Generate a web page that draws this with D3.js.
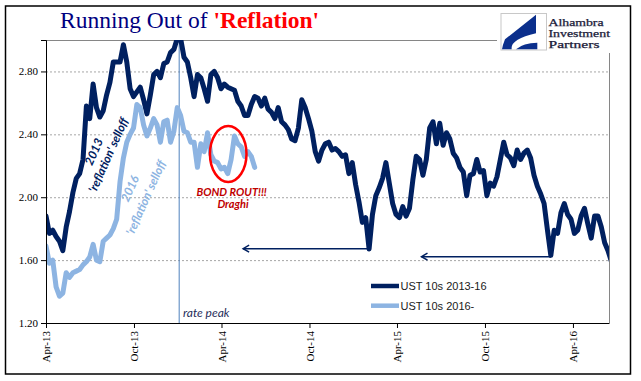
<!DOCTYPE html>
<html><head><meta charset="utf-8">
<script src="https://cdn.jsdelivr.net/npm/d3@7"></script>
<style>body{margin:0;background:#fff}svg{display:block}</style>
</head><body><svg id="c" width="641" height="381"></svg>
<script>
// ---------- data ----------
const startDate = "2013-04-01";
const endDate = "2016-06-15";
const stepDays = 7; // weekly observations
const yTicks = [1.2, 1.6, 2.0, 2.4, 2.8];
const xTickDates = ["2013-04-01","2013-10-01","2014-04-01","2014-10-01","2015-04-01","2015-10-01","2016-04-01"];
const xTickLabels = ["Apr-13","Oct-13","Apr-14","Oct-14","Apr-15","Oct-15","Apr-16"];
const seriesNames = ["UST 10s 2013-16", "UST 10s 2016-"];
const ust2013 = [
 1.88,1.77,1.79,1.75,1.72,1.66,1.81,1.91,2.03,2.12,
 2.15,2.24,2.58,2.50,2.72,2.57,2.51,2.55,2.65,2.73,
 2.86,2.86,2.86,2.97,2.86,2.69,2.64,2.67,2.70,2.62,
 2.53,2.65,2.78,2.80,2.76,2.85,2.86,2.92,2.94,3.01,
 3.01,2.89,2.86,2.76,2.64,2.78,2.76,2.69,2.61,2.78,
 2.80,2.76,2.69,2.72,2.70,2.69,2.68,2.61,2.58,2.52,
 2.52,2.59,2.64,2.63,2.58,2.63,2.56,2.54,2.50,2.57,
 2.48,2.46,2.43,2.37,2.36,2.44,2.62,2.57,2.50,2.42,
 2.29,2.23,2.30,2.34,2.35,2.30,2.31,2.29,2.26,2.27,
 2.15,2.22,2.08,1.97,1.84,1.87,1.67,1.89,2.01,2.06,
 2.12,2.22,2.09,1.96,1.89,1.87,1.94,1.88,1.93,2.11,
 2.26,2.24,2.14,2.24,2.44,2.48,2.34,2.47,2.33,2.41,
 2.37,2.28,2.25,2.19,2.16,2.01,2.14,2.15,2.24,2.16,
 2.17,2.01,2.09,2.07,2.13,2.24,2.35,2.27,2.25,2.20,
 2.30,2.24,2.28,2.30,2.25,2.14,2.07,2.02,1.96,1.79,
 1.63,1.79,1.77,1.90,1.96,1.89,1.86,1.77,1.79,1.88,
 1.93,1.83,1.74,1.88,1.88,1.81,1.71,1.66,1.59
];
const ust2016 = [
 1.69,1.58,1.60,1.43,1.37,1.39,1.52,1.49,1.52,1.53,
 1.54,1.57,1.59,1.62,1.70,1.60,1.59,1.72,1.74,1.76,
 1.80,1.86,2.10,2.25,2.35,2.40,2.44,2.59,2.57,2.46,
 2.39,2.44,2.50,2.46,2.35,2.48,2.49,2.35,2.42,2.57,
 2.52,2.42,2.41,2.35,2.35,2.19,2.34,2.29,2.41,2.27,
 2.23,2.22,2.18,2.19,2.15,2.24,2.39,2.34,2.32,2.26,
 2.29,2.26,2.19
];
// annotations (data coordinates)
const ratePeakDate = "2014-01-03";
const arrows = [
  {from: "2015-01-31", to: "2014-05-16", value: 1.673},
  {from: "2016-02-14", to: "2015-05-22", value: 1.622}
];
const rout = {date: "2014-04-15", value: 2.275, rxDays: 38, ryValue: 0.178};
const logoWords = ["Alhambra", "Investment", "Partners"];

// ---------- layout ----------
const svg = d3.select("#c");
const W = 641, H = 381;
const m = {left: 46, top: 40, right: 609, bottom: 323};
const parse = d3.utcParse("%Y-%m-%d");
const t0 = parse(startDate);
const dateAt = i => d3.utcDay.offset(t0, i * stepDays);

const x = d3.scaleUtc().domain([t0, parse(endDate)]).range([m.left, m.right]);
const y = d3.scaleLinear().domain([1.2, 3.0]).range([m.bottom, m.top]);

const navy = "#002060", light = "#8db4e2";

svg.append("rect").attr("x",0).attr("y",0).attr("width",W).attr("height",H).attr("fill","#fff");
// outer frame
svg.append("rect").attr("x",5.5).attr("y",6).attr("width",625).attr("height",368)
  .attr("fill","none").attr("stroke","#000").attr("stroke-width",1.5);

// title
const title = svg.append("text").attr("x",60).attr("y",27.5)
  .attr("font-family","'Liberation Serif', 'Times New Roman', serif").attr("font-size",23.5);
title.append("tspan").attr("fill","#000080").text("Running Out of ");
title.append("tspan").attr("fill","#ff0000").attr("font-weight","bold").text("'Reflation'");

// gridlines
svg.append("g").selectAll("line").data(yTicks.filter(v => v > 1.2)).join("line")
  .attr("x1", m.left).attr("x2", m.right)
  .attr("y1", d => y(d)+0.5).attr("y2", d => y(d)+0.5)
  .attr("stroke","#a6a6a6").attr("stroke-width",1).attr("stroke-dasharray","2,2");

// plot border (top/right)
svg.append("path").attr("d",`M${m.left},${m.top+0.5}H${m.right+0.5}V${m.bottom}`)
  .attr("fill","none").attr("stroke","#868686").attr("stroke-width",1);

// rate peak line
svg.append("line").attr("x1", x(parse(ratePeakDate))).attr("x2", x(parse(ratePeakDate)))
  .attr("y1", m.top).attr("y2", m.bottom).attr("stroke","#4f81bd").attr("stroke-width",1);

// clip
svg.append("defs").append("clipPath").attr("id","pc").append("rect")
  .attr("x", m.left).attr("y", m.top).attr("width", m.right-m.left).attr("height", m.bottom-m.top);

const line = d3.line().x((d,i) => x(dateAt(i))).y(d => y(d));
const gl = svg.append("g").attr("clip-path","url(#pc)");
gl.append("path").datum(ust2013).attr("d", line).attr("fill","none")
  .attr("stroke", navy).attr("stroke-width",5).attr("stroke-linejoin","round").attr("stroke-linecap","round");
gl.append("path").datum(ust2016).attr("d", line).attr("fill","none")
  .attr("stroke", light).attr("stroke-width",5).attr("stroke-linejoin","round").attr("stroke-linecap","round");

// red ellipse
const ec = parse(rout.date);
svg.append("ellipse").attr("cx", x(ec)).attr("cy", y(rout.value))
  .attr("rx", x(d3.utcDay.offset(ec, rout.rxDays)) - x(ec))
  .attr("ry", y(rout.value - rout.ryValue) - y(rout.value))
  .attr("fill","none").attr("stroke","#ff0000").attr("stroke-width",2.5);

// arrows
arrows.forEach(a => {
  const x1 = x(parse(a.from)), x2 = x(parse(a.to)), yy = y(a.value);
  svg.append("line").attr("x1",x1).attr("x2",x2).attr("y1",yy).attr("y2",yy)
    .attr("stroke",navy).attr("stroke-width",1.5);
  svg.append("path").attr("d",`M${x2+6},${yy-3.5}L${x2},${yy}L${x2+6},${yy+3.5}`)
    .attr("fill","none").attr("stroke",navy).attr("stroke-width",1.5);
});

// annotations text
const sans = "Lato, 'Open Sans', sans-serif";
function rotText(date, value, txt, color){
  svg.append("text").attr("transform",`translate(${x(parse(date))},${y(value)}) rotate(-66)`)
    .attr("text-anchor","middle").attr("dominant-baseline","central")
    .attr("font-family",sans).attr("font-size",12).attr("font-weight","bold").attr("font-style","italic")
    .attr("fill",color).text(txt);
}
rotText("2013-07-09", 2.29, "2013", navy);
rotText("2013-08-08", 2.269, "'reflation' selloff", navy);
rotText("2013-09-22", 2.056, "2016", light);
rotText("2013-10-25", 1.998, "'reflation' selloff", light);

svg.append("text").attr("x", x(parse("2014-04-22"))).attr("y", y(2.008)).attr("text-anchor","middle")
  .attr("font-family",sans).attr("font-size",11).attr("font-weight","bold").attr("font-style","italic")
  .attr("fill","#c00000").text("BOND ROUT!!!");
svg.append("text").attr("x", x(parse("2014-04-25"))).attr("y", y(1.932)).attr("text-anchor","middle")
  .attr("font-family",sans).attr("font-size",11).attr("font-weight","bold").attr("font-style","italic")
  .attr("fill","#c00000").text("Draghi");
svg.append("text").attr("x", x(parse("2014-01-11"))).attr("y", y(1.238))
  .attr("font-family",sans).attr("font-size",12).attr("font-style","italic")
  .attr("fill","#1f2d5a").text("rate peak");

// axes
const serif = "'Liberation Serif', 'Times New Roman', serif";
const yAxis = svg.append("g").attr("transform",`translate(${m.left},0)`)
  .call(d3.axisLeft(y).tickValues(yTicks).tickFormat(d3.format(".2f")).tickSize(5).tickPadding(3));
yAxis.select(".domain").attr("stroke","#000");
yAxis.selectAll("line").attr("stroke","#000");
yAxis.selectAll("text").attr("font-family",serif).attr("font-size",11).attr("fill","#000");

const xAxis = svg.append("g").attr("transform",`translate(0,${m.bottom})`)
  .call(d3.axisBottom(x).tickValues(xTickDates.map(parse)).tickFormat((d,i) => xTickLabels[i]).tickSize(5).tickSizeOuter(0));
xAxis.select(".domain").attr("stroke","#000");
xAxis.selectAll("line").attr("stroke","#000");
xAxis.selectAll("text").attr("font-family",serif).attr("font-size",11).attr("fill","#000")
  .attr("transform","rotate(-90)").attr("text-anchor","end").attr("dy","0.32em").attr("x",-8).attr("y",0);

// legend
const lg = svg.append("g");
[navy, light].forEach((c, i) => {
  const ly = 286 + i*19.7;
  lg.append("line").attr("x1",371).attr("x2",399).attr("y1",ly).attr("y2",ly)
    .attr("stroke",c).attr("stroke-width",4.5);
  lg.append("text").attr("x",400.5).attr("y",ly+4).attr("font-family","'Liberation Sans', Arial, sans-serif")
    .attr("font-size",11).attr("fill","#1a1a1a").text(seriesNames[i]);
});

// logo
const logo = svg.append("g");
logo.append("rect").attr("x",497).attr("y",9).attr("width",118).attr("height",44).attr("fill","#fff");
logo.append("rect").attr("x",501).attr("y",13.5).attr("width",45.5).attr("height",36.5)
  .attr("fill","#fff").attr("stroke","#c8c8c8").attr("stroke-width",1);
logo.append("path").attr("d","M536,14.7 L505,39.3 Q502.7,45 502,49.3 L511.7,49.3 Q510,39.3 536,33.3 Z").attr("fill","#0b2f8c");
logo.append("path").attr("d","M516,49.3 Q523.3,42.7 537.3,42.7 L537.3,49.3 Z").attr("fill","#0b2f8c");
const logoWidths = [55, 61.5, 51];
logoWords.forEach((t,i) => {
  logo.append("text").attr("x",548.5).attr("y",25.5 + i*11.3).attr("font-family",serif)
    .attr("font-size",10).attr("textLength",logoWidths[i]).attr("lengthAdjust","spacingAndGlyphs")
    .attr("fill","#1b1b3a").attr("stroke","#1b1b3a").attr("stroke-width",0.25)
    .text(t);
});
</script></body></html>
